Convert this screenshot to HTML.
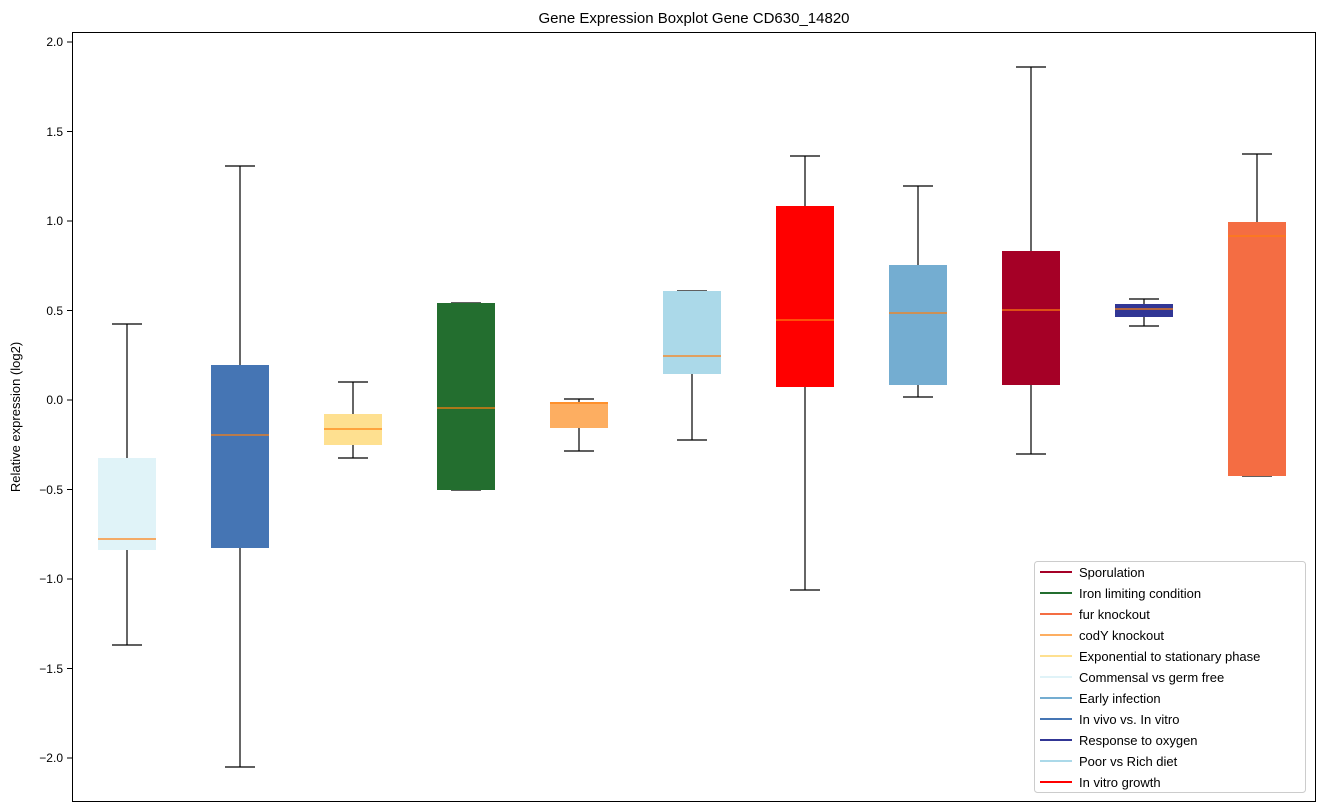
<!DOCTYPE html>
<html><head><meta charset="utf-8"><style>body{margin:0;background:#fff}svg{display:block}text{font-family:"Liberation Sans","DejaVu Sans",sans-serif}</style></head>
<body>
<svg width="1322" height="812" xmlns="http://www.w3.org/2000/svg">
<text x="694" y="23" font-size="15" text-anchor="middle">Gene Expression Boxplot Gene CD630_14820</text>
<g font-size="12" text-anchor="end" stroke-width="1">
<line x1="67" x2="72" y1="42" y2="42" stroke="#000"/><text x="63" y="46">2.0</text>
<line x1="67" x2="72" y1="131.5" y2="131.5" stroke="#000"/><text x="63" y="136">1.5</text>
<line x1="67" x2="72" y1="221" y2="221" stroke="#000"/><text x="63" y="225">1.0</text>
<line x1="67" x2="72" y1="310.5" y2="310.5" stroke="#000"/><text x="63" y="315">0.5</text>
<line x1="67" x2="72" y1="400" y2="400" stroke="#000"/><text x="63" y="404">0.0</text>
<line x1="67" x2="72" y1="489.5" y2="489.5" stroke="#000"/><text x="63" y="494">−0.5</text>
<line x1="67" x2="72" y1="579" y2="579" stroke="#000"/><text x="63" y="583">−1.0</text>
<line x1="67" x2="72" y1="668.5" y2="668.5" stroke="#000"/><text x="63" y="673">−1.5</text>
<line x1="67" x2="72" y1="758" y2="758" stroke="#000"/><text x="63" y="762">−2.0</text>
</g>
<text transform="translate(20,417) rotate(-90)" font-size="13" text-anchor="middle">Relative expression (log2)</text>
<g stroke="#000" stroke-width="1.2">
<line x1="127" x2="127" y1="324" y2="645"/><line x1="112" x2="142" y1="324" y2="324"/><line x1="112" x2="142" y1="645" y2="645"/>
<line x1="240" x2="240" y1="166" y2="767"/><line x1="225" x2="255" y1="166" y2="166"/><line x1="225" x2="255" y1="767" y2="767"/>
<line x1="353" x2="353" y1="382" y2="458"/><line x1="338" x2="368" y1="382" y2="382"/><line x1="338" x2="368" y1="458" y2="458"/>
<line x1="451" x2="481" y1="303" y2="303"/><line x1="451" x2="481" y1="490" y2="490"/>
<line x1="579" x2="579" y1="399" y2="451"/><line x1="564" x2="594" y1="399" y2="399"/><line x1="564" x2="594" y1="451" y2="451"/>
<line x1="692" x2="692" y1="291" y2="440"/><line x1="677" x2="707" y1="291" y2="291"/><line x1="677" x2="707" y1="440" y2="440"/>
<line x1="805" x2="805" y1="156" y2="590"/><line x1="790" x2="820" y1="156" y2="156"/><line x1="790" x2="820" y1="590" y2="590"/>
<line x1="918" x2="918" y1="186" y2="397"/><line x1="903" x2="933" y1="186" y2="186"/><line x1="903" x2="933" y1="397" y2="397"/>
<line x1="1031" x2="1031" y1="67" y2="454"/><line x1="1016" x2="1046" y1="67" y2="67"/><line x1="1016" x2="1046" y1="454" y2="454"/>
<line x1="1144" x2="1144" y1="299" y2="326"/><line x1="1129" x2="1159" y1="299" y2="299"/><line x1="1129" x2="1159" y1="326" y2="326"/>
<line x1="1257" x2="1257" y1="154" y2="476"/><line x1="1242" x2="1272" y1="154" y2="154"/><line x1="1242" x2="1272" y1="476" y2="476"/>
</g>
<rect x="98" y="458" width="58" height="92" fill="#e0f3f8"/>
<rect x="211" y="365" width="58" height="183" fill="#4575b4"/>
<rect x="324" y="414" width="58" height="31" fill="#fee090"/>
<rect x="437" y="303" width="58" height="187" fill="#236e2f"/>
<rect x="550" y="402" width="58" height="26" fill="#fdae61"/>
<rect x="663" y="291" width="58" height="83" fill="#abd9e9"/>
<rect x="776" y="206" width="58" height="181" fill="#ff0000"/>
<rect x="889" y="265" width="58" height="120" fill="#74add1"/>
<rect x="1002" y="251" width="58" height="134" fill="#a50026"/>
<rect x="1115" y="304" width="58" height="13" fill="#313695"/>
<rect x="1228" y="222" width="58" height="254" fill="#f46d43"/>
<g stroke="#ff7f0e" stroke-width="1.2">
<line x1="98" x2="156" y1="539" y2="539"/>
<line x1="211" x2="269" y1="435" y2="435"/>
<line x1="324" x2="382" y1="429" y2="429"/>
<line x1="437" x2="495" y1="408" y2="408"/>
<line x1="550" x2="608" y1="403" y2="403"/>
<line x1="663" x2="721" y1="356" y2="356"/>
<line x1="776" x2="834" y1="320" y2="320"/>
<line x1="889" x2="947" y1="313" y2="313"/>
<line x1="1002" x2="1060" y1="310" y2="310"/>
<line x1="1115" x2="1173" y1="309" y2="309"/>
<line x1="1228" x2="1286" y1="236" y2="236"/>
</g>
<rect x="72.5" y="32.5" width="1243" height="769" fill="none" stroke="#000"/>
<rect x="1034.5" y="561.5" width="271" height="231" rx="3" fill="#fff" stroke="#ccc"/>
<g font-size="13" stroke-width="2">
<line x1="1040" x2="1072" y1="572" y2="572" stroke="#a50026"/><text x="1079" y="577">Sporulation</text>
<line x1="1040" x2="1072" y1="593" y2="593" stroke="#236e2f"/><text x="1079" y="598">Iron limiting condition</text>
<line x1="1040" x2="1072" y1="614" y2="614" stroke="#f46d43"/><text x="1079" y="619">fur knockout</text>
<line x1="1040" x2="1072" y1="635" y2="635" stroke="#fdae61"/><text x="1079" y="640">codY knockout</text>
<line x1="1040" x2="1072" y1="656" y2="656" stroke="#fee090"/><text x="1079" y="661">Exponential to stationary phase</text>
<line x1="1040" x2="1072" y1="677" y2="677" stroke="#e0f3f8"/><text x="1079" y="682">Commensal vs germ free</text>
<line x1="1040" x2="1072" y1="698" y2="698" stroke="#74add1"/><text x="1079" y="703">Early infection</text>
<line x1="1040" x2="1072" y1="719" y2="719" stroke="#4575b4"/><text x="1079" y="724">In vivo vs. In vitro</text>
<line x1="1040" x2="1072" y1="740" y2="740" stroke="#313695"/><text x="1079" y="745">Response to oxygen</text>
<line x1="1040" x2="1072" y1="761" y2="761" stroke="#abd9e9"/><text x="1079" y="766">Poor vs Rich diet</text>
<line x1="1040" x2="1072" y1="782" y2="782" stroke="#ff0000"/><text x="1079" y="787">In vitro growth</text>
</g>
</svg>
</body></html>
